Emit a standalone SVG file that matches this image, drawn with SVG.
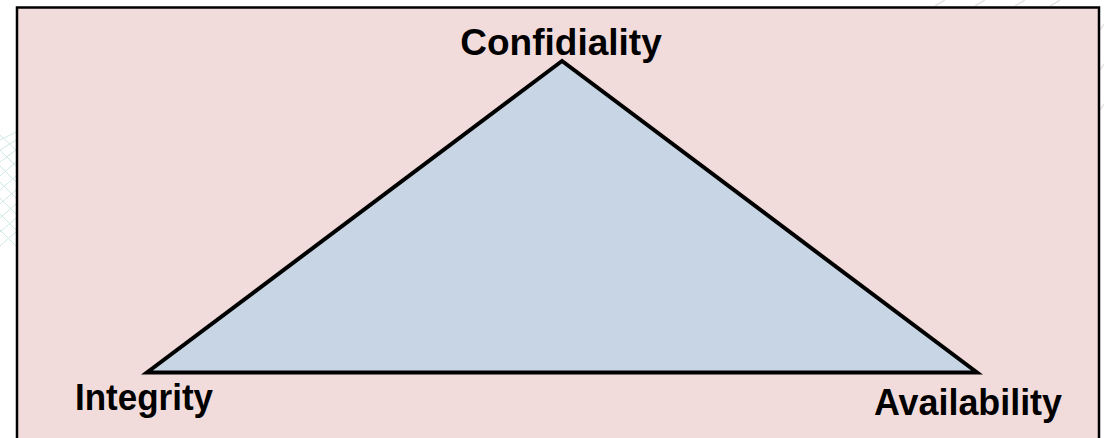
<svg xmlns="http://www.w3.org/2000/svg" width="1104" height="438" viewBox="0 0 1104 438">
  <style>
    .lbl { font-family: "Liberation Sans", Arial, sans-serif; font-weight: bold; font-size: 37px; fill: #000; }
    .bgline { fill: none; stroke: #cfe8e6; stroke-width: 1; }
    .bgline2 { fill: none; stroke: #e4e4e8; stroke-width: 1.5; }
  </style>
  <rect x="0" y="0" width="1104" height="438" fill="#ffffff"/>
  <g id="background-texture">
    <path class="bgline" d="M0 140 L16 132 M0 150 L16 140 M0 162 L16 150 M0 176 L16 162 M0 190 L16 176 M0 204 L16 190 M0 218 L16 204 M0 232 L16 218 M0 246 L16 232"/>
    <path class="bgline" d="M0 135 L16 150 M0 150 L16 166 M0 166 L16 182 M0 182 L16 198 M0 198 L16 214 M0 214 L16 230 M0 230 L16 246"/>
    <path class="bgline2" d="M935 6 L945 0 M975 6 L985 0 M1015 6 L1025 0 M1050 6 L1060 0 M1100 30 L1104 24 M1100 70 L1104 64 M1100 110 L1104 104"/>
  </g>
  <g id="frame">
    <rect x="17" y="7.5" width="1082" height="440" fill="#f2dcdb" stroke="#000" stroke-width="2.5"/>
  </g>
  <g id="connectors">
    <polygon id="triangle" points="562,61 147,372.5 977,372.5" fill="#c8d5e4" stroke="#000" stroke-width="4" stroke-linejoin="miter"/>
  </g>
  <g id="node-confidiality">
    <text class="lbl" x="561" y="55" text-anchor="middle">Confidiality</text>
  </g>
  <g id="node-integrity">
    <text class="lbl" x="75" y="409.5" textLength="138" lengthAdjust="spacingAndGlyphs">Integrity</text>
  </g>
  <g id="node-availability">
    <text class="lbl" x="874" y="414.5" textLength="188" lengthAdjust="spacingAndGlyphs">Availability</text>
  </g>
</svg>
